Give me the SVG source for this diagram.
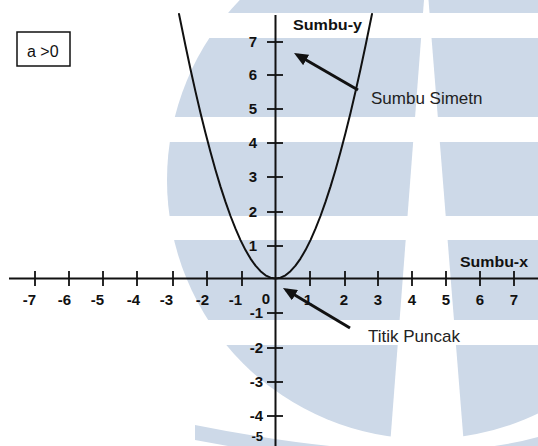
<svg xmlns="http://www.w3.org/2000/svg" width="538" height="446" viewBox="0 0 538 446">
  <style>
    .wm { fill: #cdd9e8; }
    .wgap { fill: #ffffff; }
    .axis { stroke: #111; stroke-width: 2; fill: none; }
    .tick { stroke: #111; stroke-width: 1.8; }
    .curve { stroke: #111; stroke-width: 2; fill: none; stroke-linejoin: round; stroke-linecap: round; }
    .num { font-family: "Liberation Sans", Arial, sans-serif; font-weight: bold; font-size: 15px; fill: #111; }
    .axlbl { font-family: "Liberation Sans", Arial, sans-serif; font-weight: bold; font-size: 14px; fill: #111; }
    .lbl { font-family: "Liberation Sans", Arial, sans-serif; font-size: 17px; fill: #222; }
    .box { fill: #fff; stroke: #111; stroke-width: 1.5; }
    .arrow { stroke: #111; stroke-width: 3; fill: none; marker-end: url(#ah); }
  </style>
  <defs>
    <marker id="ah" viewBox="0 0 14 12" refX="10" refY="6" markerWidth="14" markerHeight="12" markerUnits="userSpaceOnUse" orient="auto">
      <path d="M0,0 L14,6 L0,12 Z" fill="#111"/>
    </marker>
  </defs>

  <rect width="538" height="446" fill="#ffffff"/>

  <!-- watermark -->
  <g id="watermark">
    <circle class="wm" cx="426" cy="180" r="259"/>
    <path class="wm" d="M195,425 Q420,470 538,437 L538,446 L228,446 L195,440 Z"/>
    <rect class="wgap" x="0" y="13" width="538" height="25"/>
    <rect class="wgap" x="0" y="117" width="538" height="25"/>
    <rect class="wgap" x="0" y="216" width="538" height="24"/>
    <rect class="wgap" x="0" y="320" width="538" height="25"/>
    <polygon class="wgap" points="424,0 428.5,0 464,446 390,446"/>
  </g>

  <!-- axes -->
  <g id="axes">
    <line class="axis" x1="9" y1="278.5" x2="538" y2="278.5"/>
    <line class="axis" x1="275.5" y1="15" x2="275.5" y2="446"/>
    <g id="x-ticks">
      <line class="tick" x1="35" y1="271" x2="35" y2="286"/>
      <line class="tick" x1="69" y1="271" x2="69" y2="286"/>
      <line class="tick" x1="103" y1="271" x2="103" y2="286"/>
      <line class="tick" x1="137" y1="271" x2="137" y2="286"/>
      <line class="tick" x1="173" y1="271" x2="173" y2="286"/>
      <line class="tick" x1="207" y1="271" x2="207" y2="286"/>
      <line class="tick" x1="242" y1="271" x2="242" y2="286"/>
      <line class="tick" x1="310" y1="271" x2="310" y2="286"/>
      <line class="tick" x1="345" y1="271" x2="345" y2="286"/>
      <line class="tick" x1="378" y1="271" x2="378" y2="286"/>
      <line class="tick" x1="412" y1="271" x2="412" y2="286"/>
      <line class="tick" x1="446" y1="271" x2="446" y2="286"/>
      <line class="tick" x1="480" y1="271" x2="480" y2="286"/>
      <line class="tick" x1="514" y1="271" x2="514" y2="286"/>
    </g>
    <g id="y-ticks">
      <line class="tick" x1="267" y1="42" x2="283" y2="42"/>
      <line class="tick" x1="267" y1="75" x2="283" y2="75"/>
      <line class="tick" x1="267" y1="109" x2="283" y2="109"/>
      <line class="tick" x1="267" y1="143" x2="283" y2="143"/>
      <line class="tick" x1="267" y1="177" x2="283" y2="177"/>
      <line class="tick" x1="267" y1="212" x2="283" y2="212"/>
      <line class="tick" x1="267" y1="246" x2="283" y2="246"/>
      <line class="tick" x1="267" y1="313" x2="283" y2="313"/>
      <line class="tick" x1="267" y1="348" x2="283" y2="348"/>
      <line class="tick" x1="267" y1="382" x2="283" y2="382"/>
      <line class="tick" x1="267" y1="416" x2="283" y2="416"/>
    </g>
    <g id="x-labels" class="num">
      <text x="36" y="305" text-anchor="end">-7</text>
      <text x="71" y="305" text-anchor="end">-6</text>
      <text x="104" y="305" text-anchor="end">-5</text>
      <text x="140" y="305" text-anchor="end">-4</text>
      <text x="173" y="305" text-anchor="end">-3</text>
      <text x="209" y="305" text-anchor="end">-2</text>
      <text x="242" y="305" text-anchor="end">-1</text>
      <text x="266" y="304" text-anchor="middle">0</text>
      <text x="308" y="305" text-anchor="middle">1</text>
      <text x="344" y="305" text-anchor="middle">2</text>
      <text x="378" y="305" text-anchor="middle">3</text>
      <text x="412" y="305" text-anchor="middle">4</text>
      <text x="446" y="305" text-anchor="middle">5</text>
      <text x="480" y="305" text-anchor="middle">6</text>
      <text x="514" y="305" text-anchor="middle">7</text>
    </g>
    <g id="y-labels" class="num">
      <text x="257" y="47" text-anchor="end">7</text>
      <text x="257" y="80" text-anchor="end">6</text>
      <text x="257" y="114" text-anchor="end">5</text>
      <text x="257" y="148" text-anchor="end">4</text>
      <text x="257" y="182" text-anchor="end">3</text>
      <text x="257" y="217" text-anchor="end">2</text>
      <text x="257" y="251" text-anchor="end">1</text>
      <text x="263" y="318" text-anchor="end">-1</text>
      <text x="263" y="353" text-anchor="end">-2</text>
      <text x="263" y="387" text-anchor="end">-3</text>
      <text x="263" y="421" text-anchor="end">-4</text>
      <text x="263" y="441" text-anchor="end" font-size="13">-5</text>
    </g>
  </g>

  <!-- parabola -->
  <g id="parabola">
    <polyline class="curve" points="179,14 185.5,45.8 190.5,69.2 195.5,91.6 200.5,112.9 205.5,133.1 210.5,152.1 215.5,170 220.5,186.6 225.5,201.9 230.5,216 235.5,228.7 240.5,240.1 245.5,250.1 250.5,258.6 255.5,265.7 260.5,271.2 265.5,275.3 270.5,277.7 275.5,278.5 280.5,277.7 285.5,275.3 290.5,271.2 295.5,265.7 300.5,258.6 305.5,250.1 310.5,240.1 315.5,228.7 320.5,216 325.5,201.9 330.5,186.6 335.5,170 340.5,152.1 345.5,133.1 350.5,112.9 355.5,91.6 360.5,69.2 365.5,45.8 372,14"/>
  </g>

  <!-- nodes -->
  <g id="node-a-positive">
    <rect class="box" x="17" y="32" width="53" height="34"/>
    <text x="27" y="57" font-family="Liberation Sans, Arial, sans-serif" font-size="16" fill="#111">a &gt;0</text>
  </g>
  <g id="node-sumbu-y">
    <text class="axlbl" x="293" y="30" textLength="69" lengthAdjust="spacingAndGlyphs">Sumbu-y</text>
  </g>
  <g id="node-sumbu-x">
    <text class="axlbl" x="460" y="267" textLength="68" lengthAdjust="spacingAndGlyphs">Sumbu-x</text>
  </g>
  <g id="node-sumbu-simetri">
    <text class="lbl" x="371" y="104">Sumbu Simetn</text>
  </g>
  <g id="node-titik-puncak">
    <text class="lbl" x="368" y="342">Titik Puncak</text>
  </g>

  <!-- connectors -->
  <g id="connectors">
    <line class="arrow" x1="358" y1="90" x2="297.5" y2="55"/>
    <line class="arrow" x1="350" y1="328" x2="286.4" y2="290"/>
  </g>
</svg>
